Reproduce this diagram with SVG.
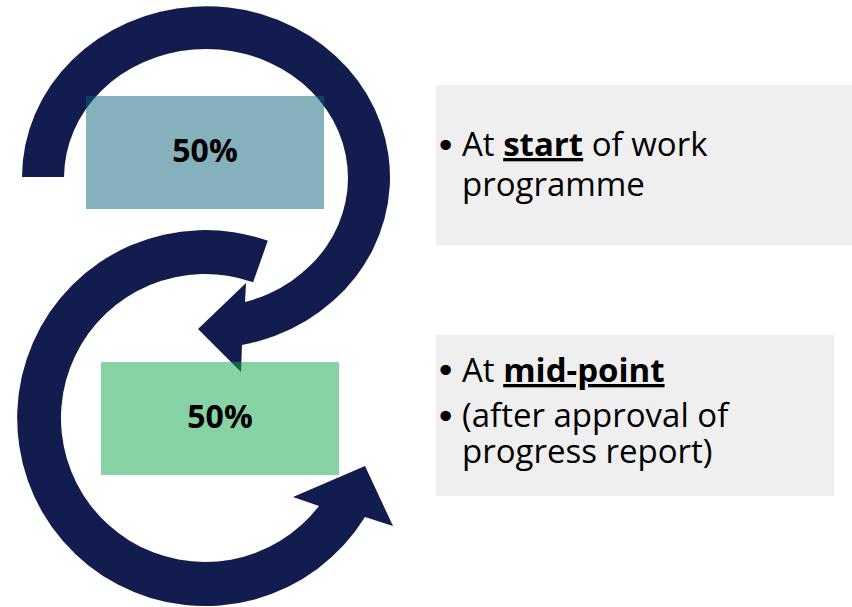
<svg xmlns="http://www.w3.org/2000/svg" width="852" height="607" viewBox="0 0 852 607">
<style>
.arrow{fill:#131C4E}
.box{opacity:0.5}
.pct{font-family:"Open Sans","Noto Sans",sans-serif;font-size:32px;font-weight:bold;fill:#000;text-anchor:middle}
.panel{fill:#EFEFEF}
.txt{font-family:"Open Sans","Noto Sans",sans-serif;font-size:33px;fill:#000}
.b{font-weight:bold;text-decoration:underline}
.bul{font-family:"DejaVu Sans",sans-serif;font-size:36px;fill:#000}
</style>
<rect width="852" height="607" fill="#FFFFFF"/>
<g id="connectors">
<path id="arrow-top" class="arrow" d="M 22 177 A 184 171 0 1 1 242 345 L 241 372 L 198 329 L 246 283 L 245 302 A 142 129 0 1 0 64 177 Z"/>
<path id="arrow-bottom" class="arrow" d="M 267.8 240.8 A 188 188 0 1 0 365 517 L 393 526 L 365 466 L 293 497 L 319 506 A 144 144 0 1 1 253.1 282.3 Z"/>
</g>
<g id="node-start">
<rect class="box" x="86" y="96" width="238" height="113" fill="#0A6379"/>
<text class="pct" x="205" y="162">50%</text>
</g>
<g id="node-mid">
<rect class="box" x="101" y="362" width="238" height="113" fill="#0FA74B"/>
<text class="pct" x="220" y="428">50%</text>
</g>
<g id="panel-start">
<rect class="panel" x="436" y="85" width="416" height="160"/>
<text class="bul" x="435" y="158">•</text>
<text class="txt" x="462" y="156">At <tspan class="b">start</tspan> of work<tspan x="462" dy="40">programme</tspan></text>
</g>
<g id="panel-mid">
<rect class="panel" x="436" y="335" width="398" height="161"/>
<text class="bul" x="435" y="383">•</text>
<text class="txt" x="462" y="382">At <tspan class="b">mid-point</tspan></text>
<text class="bul" x="435" y="429">•</text>
<text class="txt" x="462" y="427">(after approval of<tspan x="462" dy="36">progress report)</tspan></text>
</g>
</svg>
